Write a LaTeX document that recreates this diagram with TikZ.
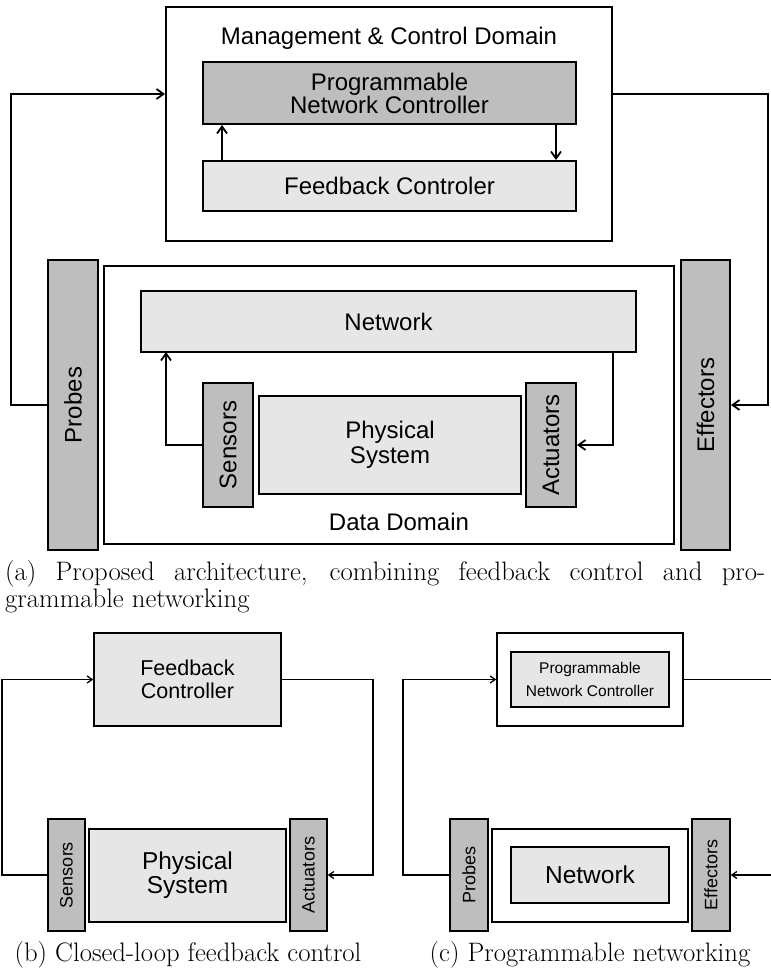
\documentclass[tikz,border=0pt]{standalone}
\usepackage{fontspec}
\usepackage{graphicx}
\usetikzlibrary{arrows.meta,calc}
\newfontfamily\arialf{Liberation Sans}
\newcommand\fsz[2]{\fontsize{#1}{#2}\selectfont}
\definecolor{boxgray}{HTML}{BEBEBE}
\definecolor{boxlight}{HTML}{E6E6E6}
\tikzset{
  boxA/.style={draw=black, line width=2pt, inner sep=0pt, align=center, font=\arialf\fsz{24}{23}},
  grayA/.style={boxA, fill=boxgray},
  lightA/.style={boxA, fill=boxlight},
  plainA/.style={boxA, fill=white},
  arrA/.style={line width=1.8pt, -{Straight Barb[length=7pt,width=10pt]}},
  lineA/.style={line width=1.8pt},
  boxB/.style={draw=black, line width=1.5pt, inner sep=0pt, align=center},
  grayB/.style={boxB, fill=boxgray},
  lightB/.style={boxB, fill=boxlight},
  plainB/.style={boxB, fill=white},
  arrB/.style={line width=1.3pt, -{Straight Barb[length=5pt,width=7pt]}},
  lineB/.style={line width=1.3pt},
  lbl/.style={inner sep=0pt, font=\arialf\fsz{24}{23}},
  capt/.style={inner sep=0pt, font=\fsz{26.7}{27}}
}
\begin{document}
\begin{tikzpicture}[x=1pt,y=-1pt]
\useasboundingbox (0,0) rectangle (770,973);

% ---------------- (a) ----------------
\node[plainA, minimum width=446pt, minimum height=234pt] (mgmt) at (389,124) {};
\node[lbl] (mgmtlbl) at (389,38) {Management \& Control Domain};
\node[grayA, minimum width=373pt, minimum height=62pt] (pnc) at (389.5,93) {Programmable\\Network Controller};
\node[lightA, minimum width=373pt, minimum height=50pt] (fcA) at (389.5,186) {Feedback Controler};
\draw[arrA] ([xshift=-167.5pt]fcA.north) -- ([xshift=-167.5pt]pnc.south);
\draw[arrA] ([xshift=166.5pt]pnc.south) -- ([xshift=166.5pt]fcA.north);

\node[grayA, minimum width=50pt, minimum height=290pt] (probes) at (73,405) {\rotatebox{90}{Probes}};
\node[plainA, minimum width=570pt, minimum height=278pt] (dataD) at (389,405) {};
\node[lbl] (datalbl) at (399,522) {Data Domain};
\node[grayA, minimum width=49pt, minimum height=290pt] (effectors) at (705.5,405) {\rotatebox{90}{Effectors}};
\node[lightA, minimum width=495pt, minimum height=61pt] (network) at (388.5,321.5) {Network};
\node[grayA, minimum width=50pt, minimum height=124pt] (sensA) at (228,445) {\rotatebox{90}{Sensors}};
\node[lightA, minimum width=262pt, minimum height=98pt, font=\arialf\fsz{24}{25}] (physA) at (390,445) {Physical\\System};
\node[grayA, minimum width=50pt, minimum height=124pt] (actA) at (551,445) {\rotatebox{90}{Actuators}};

\coordinate (lA) at (11,94);
\draw[arrA] (probes.west) -| (lA) -- (lA -| mgmt.west);
\coordinate (rA) at (768,94);
\draw[arrA] (rA -| mgmt.east) -- (rA) |- (effectors.east);
\coordinate (sA) at (166,352);
\draw[arrA] (sensA.west) -| (sA -| sA |- network.south);
\coordinate (nA) at (613,352);
\draw[arrA] (nA |- network.south) |- (actA.east);

\node[capt, anchor=base west] (captA) at (5,580) {\parbox[t]{760pt}{\fsz{26.7}{27}(a) Proposed architecture, combining feedback control and pro-\linebreak grammable networking}};

% ---------------- (b) ----------------
\node[lightB, minimum width=187pt, minimum height=93pt, font=\arialf\fsz{21.5}{23}] (fcB) at (187.5,679.5) {Feedback\\Controller};
\node[grayB, minimum width=37pt, minimum height=112pt, font=\arialf\fsz{18}{20}] (sensB) at (66.5,875) {\rotatebox{90}{Sensors}};
\node[lightB, minimum width=197pt, minimum height=93pt, font=\arialf\fsz{24.4}{24}] (physB) at (187.5,875.5) {Physical\\System};
\node[grayB, minimum width=37pt, minimum height=112pt, font=\arialf\fsz{18}{20}] (actB) at (308.5,875) {\rotatebox{90}{Actuators}};
\coordinate (lB) at (2,679.5);
\draw[arrB] (sensB.west) -| (lB) -- (fcB.west);
\coordinate (rB) at (373,679.5);
\draw[arrB] (fcB.east) -- (rB) |- (actB.east);
\node[capt, anchor=base] (captB) at (188,961) {(b) Closed-loop feedback control};

% ---------------- (c) ----------------
\node[plainB, minimum width=186pt, minimum height=93pt] (pncOut) at (590,679.5) {};
\node[lightB, minimum width=158pt, minimum height=55pt, font=\arialf\fsz{15.5}{23}] (pncIn) at (590,679.5) {Programmable\\Network Controller};
\node[grayB, minimum width=38pt, minimum height=112pt, font=\arialf\fsz{18}{20}] (probesC) at (469,875) {\rotatebox{90}{Probes}};
\node[plainB, minimum width=196pt, minimum height=93pt] (dataC) at (590,875.5) {};
\node[lightB, minimum width=158pt, minimum height=56pt, font=\arialf\fsz{24.5}{25}] (netC) at (590,875) {Network};
\node[grayB, minimum width=38pt, minimum height=112pt, font=\arialf\fsz{18}{20}] (effC) at (711,875) {\rotatebox{90}{Effectors}};
\coordinate (lC) at (403,679.5);
\draw[arrB] (probesC.west) -| (lC) -- (pncOut.west);
\coordinate (rC1) at (771,679.5);
\draw[lineB] (pncOut.east) -- (rC1);
\coordinate (rC2) at (771,875);
\draw[arrB] (rC2) -- (effC.east);
\node[capt, anchor=base] (captC) at (590,961) {(c) Programmable networking};
\end{tikzpicture}
\end{document}
